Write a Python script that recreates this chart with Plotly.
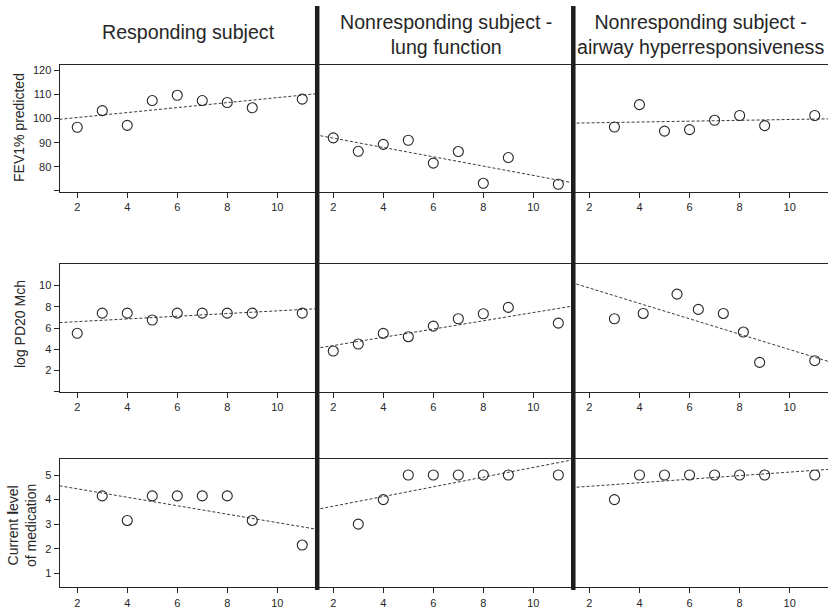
import plotly.graph_objects as go

W, H = 828, 611

# ---- data -------------------------------------------------------------
column_titles = [
    "Responding subject",
    "Nonresponding subject -<br>lung function",
    "Nonresponding subject -<br>airway hyperresponsiveness",
]
row_titles = ["FEV1% predicted", "log PD20 Mch", "Current <b>l</b>evel<br>of medication"]

x_ticks = [2, 4, 6, 8, 10]
x_range = [1.29, 11.53]

# FEV1 % predicted
fev1_x = [[2, 3, 4, 5, 6, 7, 8, 9, 11],
          [2, 3, 4, 5, 6, 7, 8, 9, 11],
          [3, 4, 5, 6, 7, 8, 9, 11]]
fev1_y = [[96.4, 103.3, 97.2, 107.5, 109.7, 107.5, 106.7, 104.5, 108.1],
          [92.0, 86.4, 89.3, 91.0, 81.5, 86.3, 73.1, 83.8, 72.7],
          [96.5, 105.8, 94.8, 95.4, 99.3, 101.3, 97.1, 101.3]]
fev1_fit = [(99.7, 110.3), (93.25, 73.4), (98.1, 99.9)]
fev1_ticks = [70, 80, 90, 100, 110, 120]
fev1_ticktext = ["", "80", "90", "100", "110", "120"]

# log PD20 methacholine
pd20_x = [[2, 3, 4, 5, 6, 7, 8, 9, 11],
          [2, 3, 4, 5, 6, 7, 8, 9, 11],
          [3, 4.15, 5.5, 6.35, 7.35, 8.15, 8.8, 11]]
pd20_y = [[5.5, 7.4, 7.4, 6.75, 7.4, 7.4, 7.4, 7.4, 7.4],
          [3.83, 4.49, 5.49, 5.18, 6.18, 6.87, 7.34, 7.94, 6.46],
          [6.87, 7.37, 9.19, 7.75, 7.37, 5.62, 2.76, 2.92]]
pd20_fit = [(6.51, 7.81), (4.07, 8.05), (10.28, 2.86)]
pd20_ticks = [0, 2, 4, 6, 8, 10]
pd20_ticktext = ["", "2", "4", "6", "8", "10"]

# current level of medication
med_x = [[3, 4, 5, 6, 7, 8, 9, 11],
         [3, 4, 5, 6, 7, 8, 9, 11],
         [3, 4, 5, 6, 7, 8, 9, 11]]
med_y = [[4.15, 3.15, 4.15, 4.15, 4.15, 4.15, 3.15, 2.15],
         [3, 4, 5, 5, 5, 5, 5, 5],
         [4, 5, 5, 5, 5, 5, 5, 5]]
med_fit = [(4.56, 2.8), (3.59, 5.61), (4.49, 5.23)]
med_ticks = [1, 2, 3, 4, 5]
med_ticktext = ["1", "2", "3", "4", "5"]

# ---- layout geometry (pixels) ----------------------------------------
col_px = [(59.5, 315.5), (315.5, 571.6), (571.6, 828.0)]
rows = [
    dict(xs=fev1_x, ys=fev1_y, fit=fev1_fit, rng=[69.6, 122.5],
         tv=fev1_ticks, tt=fev1_ticktext, px=(64.5, 191.7), title_y=127.5),
    dict(xs=pd20_x, ys=pd20_y, fit=pd20_fit, rng=[0, 12],
         tv=pd20_ticks, tt=pd20_ticktext, px=(264.3, 391.7), title_y=324),
    dict(xs=med_x, ys=med_y, fit=med_fit, rng=[0.43, 5.64],
         tv=med_ticks, tt=med_ticktext, px=(459.3, 587.3), title_y=526),
]

INK = "#262626"
FONT = "Liberation Sans, Arial, Helvetica, sans-serif"

fig = go.Figure()
layout = {}

for r, row in enumerate(rows):
    top, bot = row["px"]
    for c in range(3):
        k = r * 3 + c + 1
        xa = "xaxis" if k == 1 else f"xaxis{k}"
        ya = "yaxis" if k == 1 else f"yaxis{k}"
        xref = "x" if k == 1 else f"x{k}"
        yref = "y" if k == 1 else f"y{k}"
        x0, x1 = col_px[c]

        layout[xa] = dict(
            domain=[x0 / W, x1 / W], range=x_range, anchor=yref,
            tickvals=x_ticks, ticks="outside", ticklen=5, tickwidth=1,
            tickcolor=INK, showline=True, linecolor=INK, linewidth=1,
            mirror=True, showgrid=False, zeroline=False,
            tickfont=dict(family=FONT, size=11, color=INK),
        )
        layout[ya] = dict(
            domain=[1 - bot / H, 1 - top / H], range=row["rng"], anchor=xref,
            tickvals=row["tv"], ticktext=row["tt"],
            ticks="outside" if c == 0 else "", ticklen=5, tickwidth=1,
            tickcolor=INK, showticklabels=(c == 0),
            showline=True, linecolor=INK, linewidth=1,
            showgrid=False, zeroline=False,
            tickfont=dict(family=FONT, size=11, color=INK),
        )

        # fitted trend across the panel
        fig.add_trace(go.Scatter(
            x=x_range, y=list(row["fit"][c]), mode="lines",
            line=dict(color="#3a3a3a", width=1, dash="3px,2px"),
            xaxis=xref, yaxis=yref, showlegend=False, hoverinfo="skip",
        ))
        # observations
        fig.add_trace(go.Scatter(
            x=row["xs"][c], y=row["ys"][c], mode="markers",
            marker=dict(symbol="circle-open", size=10,
                        color=INK, line=dict(width=1.1, color=INK)),
            xaxis=xref, yaxis=yref, showlegend=False, cliponaxis=False,
        ))

annotations = []
# column headings
title_x = [188.5, 446, 700]
title_y = [32, 34, 34]
for c, t in enumerate(column_titles):
    annotations.append(dict(
        text=t, x=title_x[c] / W, y=1 - title_y[c] / H, xref="paper", yref="paper",
        xanchor="center", yanchor="middle", showarrow=False,
        font=dict(family=FONT, size=19.6, color=INK),
    ))
# row (y-axis) titles
title_xs = [18.5, 20, 22]
for r, t in enumerate(row_titles):
    annotations.append(dict(
        text=t, x=title_xs[r] / W, y=1 - rows[r]["title_y"] / H,
        xref="paper", yref="paper", xanchor="center", yanchor="middle",
        textangle=-90, showarrow=False,
        font=dict(family=FONT, size=14, color=INK),
    ))

# heavy separators between the subject columns
shapes = []
for sx in (317.2, 573.3):
    shapes.append(dict(
        type="line", xref="paper", yref="paper",
        x0=sx / W, x1=sx / W, y0=1 - 590 / H, y1=1 - 6 / H,
        line=dict(color="#1e1e1e", width=4.5),
    ))

fig.update_layout(
    width=W, height=H, margin=dict(l=0, r=0, t=0, b=0),
    paper_bgcolor="white", plot_bgcolor="white",
    annotations=annotations, shapes=shapes, **layout,
)

fig.write_html("out.html")
